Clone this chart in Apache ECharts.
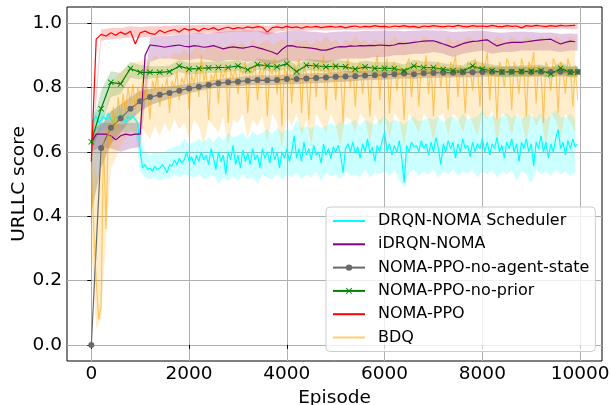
<!DOCTYPE html>
<html>
<head>
<meta charset="utf-8">
<script src="https://cdn.jsdelivr.net/npm/echarts/dist/echarts.min.js"></script>
<style>
  html, body { margin: 0; padding: 0; background: #fff; }
  #chart { width: 611px; height: 405px; }
</style>
</head>
<body>
<div id="chart"></div>
<script>
// episodes: noisy curves every 50, bands every 100, smooth curves every 100/200
const ep50 = Array.from({ length: 200 }, (_, i) => i * 50)
const ep100 = Array.from({ length: 100 }, (_, i) => i * 100)
const ep200 = Array.from({ length: 50 }, (_, i) => i * 200).concat([9950])

const xTicks = [0, 2000, 4000, 6000, 8000, 10000]
const yTicks = [0, 0.2, 0.4, 0.6, 0.8, 1.0]

// DRQN-NOMA Scheduler (ep50)
const drqn = [
  0.69, 0.70, 0.71, 0.69, 0.70, 0.71, 0.70, 0.72, 0.70, 0.69,
  0.71, 0.70, 0.72, 0.70, 0.69, 0.71, 0.70, 0.71, 0.70, 0.69,
  0.60, 0.55, 0.56, 0.545, 0.55, 0.54, 0.555, 0.545, 0.55, 0.56,
  0.55, 0.535, 0.56, 0.555, 0.575, 0.56, 0.58, 0.565, 0.575, 0.60,
  0.57, 0.585, 0.56, 0.59, 0.57, 0.60, 0.575, 0.59, 0.56, 0.61,
  0.58, 0.545, 0.60, 0.57, 0.59, 0.53, 0.60, 0.575, 0.62, 0.56,
  0.59, 0.55, 0.605, 0.57, 0.595, 0.56, 0.61, 0.575, 0.59, 0.55,
  0.61, 0.58, 0.60, 0.565, 0.615, 0.575, 0.60, 0.55, 0.60, 0.58,
  0.61, 0.57, 0.60, 0.65, 0.58, 0.61, 0.57, 0.63, 0.59, 0.61,
  0.575, 0.62, 0.59, 0.60, 0.565, 0.625, 0.59, 0.61, 0.58, 0.615,
  0.60, 0.62, 0.59, 0.535, 0.61, 0.625, 0.60, 0.63, 0.595, 0.615,
  0.58, 0.625, 0.60, 0.64, 0.595, 0.615, 0.57, 0.62, 0.60, 0.635,
  0.66, 0.60, 0.625, 0.59, 0.62, 0.60, 0.635, 0.58, 0.505, 0.62,
  0.60, 0.63, 0.615, 0.62, 0.60, 0.635, 0.61, 0.625, 0.59, 0.63,
  0.60, 0.645, 0.61, 0.56, 0.625, 0.60, 0.635, 0.61, 0.63, 0.58,
  0.625, 0.60, 0.64, 0.61, 0.62, 0.585, 0.63, 0.60, 0.625, 0.61,
  0.64, 0.60, 0.63, 0.59, 0.625, 0.61, 0.645, 0.60, 0.62, 0.58,
  0.63, 0.61, 0.64, 0.60, 0.625, 0.57, 0.63, 0.61, 0.64, 0.60,
  0.625, 0.555, 0.63, 0.61, 0.65, 0.60, 0.63, 0.58, 0.625, 0.60,
  0.64, 0.67, 0.61, 0.63, 0.59, 0.635, 0.61, 0.64, 0.615, 0.625
]
// band (ep100)
const drqnLo = [
  0.66, 0.67, 0.665, 0.67, 0.66, 0.665, 0.67, 0.66, 0.665, 0.66,
  0.54, 0.52, 0.515, 0.52, 0.51, 0.52, 0.515, 0.53, 0.52, 0.53,
  0.525, 0.52, 0.53, 0.515, 0.52, 0.53, 0.50, 0.52, 0.51, 0.525,
  0.51, 0.53, 0.515, 0.52, 0.50, 0.53, 0.52, 0.515, 0.535, 0.51,
  0.53, 0.52, 0.535, 0.515, 0.53, 0.52, 0.54, 0.51, 0.535, 0.525,
  0.53, 0.515, 0.54, 0.525, 0.53, 0.52, 0.545, 0.52, 0.535, 0.53,
  0.54, 0.525, 0.545, 0.51, 0.49, 0.535, 0.545, 0.525, 0.54, 0.53,
  0.545, 0.52, 0.54, 0.53, 0.545, 0.525, 0.54, 0.53, 0.545, 0.52,
  0.54, 0.53, 0.545, 0.52, 0.54, 0.53, 0.545, 0.51, 0.54, 0.53,
  0.50, 0.545, 0.53, 0.54, 0.525, 0.545, 0.53, 0.54, 0.525, 0.535
]
const drqnHi = [
  0.73, 0.725, 0.735, 0.72, 0.73, 0.725, 0.735, 0.73, 0.72, 0.725,
  0.66, 0.60, 0.59, 0.60, 0.595, 0.60, 0.61, 0.615, 0.62, 0.64,
  0.625, 0.63, 0.64, 0.63, 0.645, 0.63, 0.65, 0.635, 0.66, 0.645,
  0.65, 0.66, 0.64, 0.665, 0.65, 0.66, 0.67, 0.655, 0.675, 0.66,
  0.67, 0.665, 0.70, 0.675, 0.68, 0.67, 0.685, 0.675, 0.68, 0.69,
  0.68, 0.695, 0.685, 0.69, 0.70, 0.68, 0.70, 0.69, 0.685, 0.70,
  0.71, 0.69, 0.70, 0.695, 0.685, 0.70, 0.71, 0.695, 0.70, 0.705,
  0.70, 0.71, 0.69, 0.705, 0.71, 0.695, 0.72, 0.70, 0.705, 0.71,
  0.73, 0.705, 0.715, 0.70, 0.71, 0.72, 0.705, 0.715, 0.70, 0.72,
  0.71, 0.705, 0.72, 0.70, 0.715, 0.73, 0.71, 0.705, 0.72, 0.70
]

// iDRQN-NOMA (ep100)
const idrqn = [
  0.63, 0.655, 0.655, 0.655, 0.65, 0.637, 0.65, 0.655, 0.652, 0.655,
  0.655, 0.90, 0.932, 0.93, 0.928, 0.925, 0.928, 0.93, 0.932, 0.928,
  0.926, 0.93, 0.928, 0.925, 0.927, 0.93, 0.925, 0.92, 0.924, 0.926,
  0.924, 0.922, 0.925, 0.928, 0.924, 0.92, 0.915, 0.91, 0.903, 0.918,
  0.929, 0.93, 0.926, 0.925, 0.924, 0.922, 0.92, 0.916, 0.916, 0.92,
  0.925, 0.927, 0.926, 0.929, 0.928, 0.93, 0.929, 0.931, 0.93, 0.932,
  0.931, 0.93, 0.932, 0.937, 0.936, 0.938, 0.94, 0.942, 0.944, 0.945,
  0.945, 0.94, 0.935, 0.93, 0.924, 0.93, 0.936, 0.94, 0.943, 0.944,
  0.946, 0.948, 0.938, 0.929, 0.934, 0.938, 0.94, 0.94, 0.94, 0.942,
  0.944, 0.946, 0.948, 0.949, 0.95, 0.942, 0.935, 0.94, 0.944, 0.942
]
// band (ep200)
const idrqnLo = [
  0.60, 0.615, 0.61, 0.60, 0.61, 0.615, 0.88, 0.89, 0.89, 0.885,
  0.885, 0.89, 0.885, 0.88, 0.885, 0.885, 0.88, 0.885, 0.87, 0.875,
  0.885, 0.88, 0.885, 0.88, 0.875, 0.885, 0.89, 0.89, 0.89, 0.895,
  0.895, 0.90, 0.90, 0.905, 0.905, 0.91, 0.905, 0.895, 0.905, 0.91,
  0.915, 0.905, 0.91, 0.91, 0.915, 0.915, 0.915, 0.915, 0.91, 0.915,
  0.915
]
const idrqnHi = [
  0.66, 0.69, 0.69, 0.685, 0.69, 0.69, 0.955, 0.96, 0.96, 0.965,
  0.965, 0.97, 0.968, 0.972, 0.975, 0.975, 0.978, 0.976, 0.972, 0.97,
  0.975, 0.978, 0.975, 0.972, 0.97, 0.973, 0.975, 0.974, 0.976, 0.976,
  0.977, 0.976, 0.975, 0.976, 0.978, 0.978, 0.976, 0.972, 0.974, 0.976,
  0.977, 0.972, 0.97, 0.972, 0.974, 0.972, 0.97, 0.971, 0.966, 0.968,
  0.966
]

// NOMA-PPO-no-agent-state (ep200)
const noAgent = [
  0.0, 0.612, 0.675, 0.704, 0.734, 0.757, 0.77, 0.777, 0.783, 0.79,
  0.797, 0.802, 0.808, 0.813, 0.816, 0.818, 0.821, 0.823, 0.822, 0.823,
  0.826, 0.826, 0.828, 0.829, 0.831, 0.833, 0.834, 0.835, 0.837, 0.838,
  0.839, 0.841, 0.843, 0.841, 0.844, 0.845, 0.846, 0.846, 0.847, 0.847,
  0.848, 0.849, 0.848, 0.849, 0.849, 0.848, 0.849, 0.848, 0.849, 0.848,
  0.849
]
const noAgentLo = [
  0.41, 0.55, 0.625, 0.66, 0.70, 0.725, 0.745, 0.755, 0.765, 0.773,
  0.782, 0.789, 0.795, 0.80, 0.802, 0.804, 0.806, 0.808, 0.807, 0.808,
  0.81, 0.81, 0.812, 0.813, 0.815, 0.817, 0.818, 0.82, 0.822, 0.823,
  0.824, 0.826, 0.828, 0.826, 0.829, 0.83, 0.831, 0.831, 0.832, 0.832,
  0.833, 0.834, 0.833, 0.834, 0.834, 0.833, 0.834, 0.833, 0.834, 0.833,
  0.834
]
const noAgentHi = [
  0.63, 0.68, 0.725, 0.748, 0.77, 0.79, 0.795, 0.80, 0.803, 0.808,
  0.812, 0.816, 0.821, 0.826, 0.83, 0.832, 0.836, 0.838, 0.837, 0.838,
  0.841, 0.842, 0.843, 0.845, 0.846, 0.848, 0.85, 0.851, 0.852, 0.853,
  0.854, 0.856, 0.858, 0.856, 0.86, 0.86, 0.861, 0.862, 0.862, 0.863,
  0.864, 0.864, 0.864, 0.865, 0.864, 0.864, 0.865, 0.864, 0.865, 0.864,
  0.865
]

// NOMA-PPO-no-prior (ep200)
const noPrior = [
  0.631, 0.734, 0.816, 0.811, 0.859, 0.847, 0.847, 0.847, 0.849, 0.867,
  0.857, 0.859, 0.861, 0.862, 0.862, 0.867, 0.855, 0.871, 0.867, 0.864,
  0.874, 0.849, 0.869, 0.867, 0.864, 0.866, 0.864, 0.857, 0.864, 0.859,
  0.859, 0.859, 0.852, 0.867, 0.862, 0.862, 0.856, 0.852, 0.85, 0.867,
  0.857, 0.852, 0.848, 0.848, 0.85, 0.85, 0.852, 0.842, 0.86, 0.847,
  0.847
]
const noPriorLo = [
  0.60, 0.68, 0.77, 0.78, 0.83, 0.825, 0.828, 0.83, 0.832, 0.848,
  0.84, 0.842, 0.845, 0.846, 0.847, 0.851, 0.84, 0.855, 0.851, 0.848,
  0.858, 0.833, 0.853, 0.851, 0.848, 0.85, 0.848, 0.841, 0.848, 0.843,
  0.843, 0.843, 0.836, 0.851, 0.846, 0.846, 0.84, 0.836, 0.834, 0.851,
  0.841, 0.836, 0.832, 0.832, 0.834, 0.834, 0.836, 0.826, 0.844, 0.831,
  0.831
]
const noPriorHi = [
  0.67, 0.79, 0.85, 0.845, 0.88, 0.87, 0.866, 0.866, 0.868, 0.886,
  0.876, 0.878, 0.88, 0.881, 0.881, 0.886, 0.874, 0.89, 0.886, 0.883,
  0.893, 0.868, 0.888, 0.886, 0.883, 0.885, 0.883, 0.876, 0.883, 0.878,
  0.878, 0.878, 0.871, 0.886, 0.881, 0.881, 0.875, 0.871, 0.869, 0.886,
  0.876, 0.871, 0.867, 0.867, 0.869, 0.869, 0.871, 0.861, 0.879, 0.866,
  0.866
]

// NOMA-PPO (ep100)
const ppo = [
  0.57, 0.95, 0.965, 0.96, 0.97, 0.962, 0.972, 0.965, 0.975, 0.935,
  0.97, 0.975, 0.968, 0.965, 0.978, 0.97, 0.976, 0.98, 0.972, 0.983,
  0.978, 0.982, 0.975, 0.984, 0.98, 0.986, 0.978, 0.984, 0.987, 0.982,
  0.986, 0.984, 0.988, 0.985, 0.989, 0.987, 0.972, 0.986, 0.988, 0.985,
  0.99, 0.986, 0.988, 0.984, 0.989, 0.987, 0.99, 0.986, 0.988, 0.99,
  0.987, 0.99, 0.985, 0.989, 0.991, 0.987, 0.99, 0.988, 0.992, 0.989,
  0.99, 0.987, 0.991, 0.989, 0.992, 0.988, 0.99, 0.986, 0.991, 0.989,
  0.992, 0.99, 0.988, 0.991, 0.989, 0.993, 0.99, 0.988, 0.992, 0.99,
  0.991, 0.989, 0.993, 0.99, 0.988, 0.992, 0.99, 0.991, 0.985, 0.992,
  0.99, 0.993, 0.991, 0.989, 0.992, 0.99, 0.993, 0.991, 0.992, 0.993
]
// band (ep200)
const ppoLo = [
  0.55, 0.945, 0.95, 0.952, 0.955, 0.955, 0.957, 0.96, 0.962, 0.965,
  0.966, 0.968, 0.97, 0.969, 0.972, 0.973, 0.974, 0.975, 0.962, 0.974,
  0.976, 0.977, 0.976, 0.978, 0.977, 0.978, 0.979, 0.978, 0.98, 0.979,
  0.98, 0.979, 0.981, 0.98, 0.98, 0.981, 0.98, 0.982, 0.981, 0.98,
  0.982, 0.981, 0.982, 0.98, 0.982, 0.981, 0.982, 0.981, 0.983, 0.982,
  0.982
]
const ppoHi = [
  0.60, 0.98, 0.985, 0.985, 0.99, 0.988, 0.99, 0.99, 0.992, 0.993,
  0.993, 0.994, 0.995, 0.995, 0.996, 0.996, 0.996, 0.997, 0.99, 0.997,
  0.997, 0.998, 0.997, 0.998, 0.998, 0.998, 0.999, 0.998, 0.999, 0.999,
  0.999, 0.998, 0.999, 0.999, 0.999, 1.0, 0.999, 1.0, 0.999, 0.999,
  1.0, 0.999, 1.0, 0.999, 1.0, 0.999, 1.0, 1.0, 1.0, 0.999,
  1.0
]

// BDQ (ep50)
const bdq = [
  0.55, 0.36, 0.20, 0.08, 0.12, 0.65, 0.36, 0.68, 0.62, 0.74,
  0.66, 0.77, 0.70, 0.78, 0.72, 0.80, 0.75, 0.81, 0.73, 0.80,
  0.77, 0.82, 0.76, 0.80, 0.70, 0.82, 0.79, 0.84, 0.74, 0.81,
  0.79, 0.83, 0.72, 0.82, 0.80, 0.85, 0.76, 0.83, 0.81, 0.86,
  0.73, 0.84, 0.81, 0.86, 0.77, 0.90, 0.82, 0.85, 0.70, 0.84,
  0.82, 0.86, 0.75, 0.85, 0.83, 0.87, 0.69, 0.85, 0.83, 0.86,
  0.78, 0.86, 0.84, 0.88, 0.72, 0.86, 0.84, 0.87, 0.76, 0.86,
  0.83, 0.88, 0.71, 0.86, 0.84, 0.89, 0.78, 0.87, 0.68, 0.86,
  0.84, 0.88, 0.75, 0.87, 0.85, 0.89, 0.72, 0.87, 0.84, 0.70,
  0.86, 0.88, 0.77, 0.87, 0.85, 0.90, 0.73, 0.86, 0.84, 0.88,
  0.76, 0.87, 0.85, 0.69, 0.86, 0.89, 0.80, 0.87, 0.74, 0.86,
  0.88, 0.78, 0.87, 0.84, 0.71, 0.87, 0.86, 0.90, 0.76, 0.87,
  0.85, 0.89, 0.72, 0.86, 0.88, 0.79, 0.87, 0.85, 0.70, 0.87,
  0.89, 0.77, 0.86, 0.88, 0.74, 0.87, 0.85, 0.90, 0.78, 0.87,
  0.71, 0.86, 0.88, 0.80, 0.87, 0.85, 0.73, 0.88, 0.86, 0.90,
  0.77, 0.87, 0.85, 0.72, 0.88, 0.86, 0.79, 0.89, 0.86, 0.74,
  0.88, 0.86, 0.91, 0.76, 0.87, 0.85, 0.70, 0.88, 0.86, 0.80,
  0.89, 0.87, 0.73, 0.88, 0.85, 0.78, 0.89, 0.86, 0.71, 0.88,
  0.86, 0.91, 0.75, 0.87, 0.85, 0.69, 0.88, 0.86, 0.79, 0.89,
  0.87, 0.72, 0.88, 0.85, 0.78, 0.89, 0.86, 0.74, 0.87, 0.76
]
// band (ep100)
const bdqLo = [
  0.30, 0.05, 0.08, 0.33, 0.55, 0.58, 0.62, 0.64, 0.66, 0.65,
  0.68, 0.66, 0.64, 0.68, 0.65, 0.69, 0.66, 0.70, 0.67, 0.69,
  0.64, 0.70, 0.68, 0.62, 0.70, 0.68, 0.66, 0.71, 0.62, 0.70,
  0.69, 0.72, 0.64, 0.70, 0.68, 0.71, 0.63, 0.72, 0.69, 0.61,
  0.71, 0.68, 0.72, 0.65, 0.70, 0.62, 0.72, 0.69, 0.66, 0.72,
  0.68, 0.62, 0.71, 0.70, 0.66, 0.72, 0.70, 0.63, 0.72, 0.68,
  0.71, 0.64, 0.72, 0.70, 0.62, 0.72, 0.69, 0.66, 0.72, 0.70,
  0.63, 0.71, 0.72, 0.65, 0.72, 0.70, 0.66, 0.72, 0.69, 0.65,
  0.72, 0.70, 0.73, 0.62, 0.72, 0.71, 0.65, 0.72, 0.70, 0.63,
  0.72, 0.68, 0.71, 0.62, 0.72, 0.70, 0.64, 0.72, 0.69, 0.66
]
const bdqHi = [
  0.62, 0.52, 0.55, 0.74, 0.80, 0.83, 0.85, 0.86, 0.87, 0.88,
  0.88, 0.89, 0.88, 0.90, 0.89, 0.90, 0.89, 0.91, 0.90, 0.92,
  0.90, 0.92, 0.94, 0.91, 0.93, 0.92, 0.94, 0.92, 0.93, 0.94,
  0.93, 0.94, 0.92, 0.95, 0.93, 0.94, 0.95, 0.93, 0.94, 0.95,
  0.94, 0.93, 0.95, 0.94, 0.95, 0.93, 0.95, 0.94, 0.96, 0.94,
  0.95, 0.93, 0.95, 0.94, 0.96, 0.94, 0.95, 0.93, 0.95, 0.94,
  0.95, 0.94, 0.96, 0.94, 0.95, 0.93, 0.95, 0.94, 0.96, 0.95,
  0.94, 0.95, 0.93, 0.96, 0.94, 0.95, 0.94, 0.96, 0.95, 0.94,
  0.96, 0.95, 0.94, 0.96, 0.95, 0.94, 0.96, 0.95, 0.94, 0.96,
  0.95, 0.94, 0.96, 0.95, 0.94, 0.96, 0.95, 0.94, 0.96, 0.95
]

const FONT = 'DejaVu Sans'
const X_SHAPE = 'path://M1,0L5,4L9,0L10,1L6,5L10,9L9,10L5,6L1,10L0,9L4,5L0,1Z'

function pairs(eps, vals) {
  return vals.map((v, i) => [eps[i], v])
}

// shaded band drawn as one polygon through the axis scales
function band(eps, lo, hi, color, opacity) {
  return {
    type: 'custom',
    silent: true,
    data: eps.map((e, i) => [e, lo[i], hi[i]]),
    encode: { x: 0, y: [1, 2] },
    renderItem: function(params, api) {
      if (params.dataIndex !== 0) return null
      const top = []
      const bottom = []
      for (let i = 0; i < eps.length; i++) {
        top.push(api.coord([eps[i], hi[i]]))
        bottom.push(api.coord([eps[i], lo[i]]))
      }
      return {
        type: 'polygon',
        shape: { points: top.concat(bottom.reverse()) },
        style: { fill: color, opacity: opacity }
      }
    }
  }
}

function line(name, eps, vals, color, extra) {
  return Object.assign({
    name: name,
    type: 'line',
    data: pairs(eps, vals),
    symbol: 'none',
    color: color,
    lineStyle: { color: color, width: 1.2 }
  }, extra || {})
}

const chart = echarts.init(document.getElementById('chart'))

const option = {
  animation: false,
  textStyle: { fontFamily: FONT },
  grid: {
    left: 67, right: 9, top: 7, bottom: 44,
    containLabel: false,
    outerBoundsMode: 'none',
    show: true, borderColor: '#000', borderWidth: 1
  },
  legend: {
    left: 326,
    top: 207,
    orient: 'vertical',
    itemWidth: 32,
    itemHeight: 8,
    itemGap: 7.3,
    padding: [6, 6, 6, 6],
    backgroundColor: 'rgba(255,255,255,0.8)',
    borderColor: '#cccccc',
    borderWidth: 1,
    borderRadius: 4,
    textStyle: { fontFamily: FONT, fontSize: 16, color: '#000', lineHeight: 16, padding: [0, 0, 0, 8] },
    data: [
      { name: 'DRQN-NOMA Scheduler', itemStyle: { opacity: 0 } },
      { name: 'iDRQN-NOMA', itemStyle: { opacity: 0 } },
      { name: 'NOMA-PPO-no-agent-state' },
      { name: 'NOMA-PPO-no-prior' },
      { name: 'NOMA-PPO', itemStyle: { opacity: 0 } },
      { name: 'BDQ', itemStyle: { opacity: 0 } }
    ]
  },
  xAxis: {
    type: 'value',
    min: -497.5,
    max: 10447.5,
    name: 'Episode',
    nameLocation: 'middle',
    nameGap: 28,
    nameMoveOverlap: false,
    nameTextStyle: { fontFamily: FONT, fontSize: 18.5, color: '#000' },
    axisLine: { show: false },
    axisTick: { show: true, length: 4, lineStyle: { color: '#000' }, customValues: xTicks },
    axisLabel: {
      fontFamily: FONT, fontSize: 18.5, color: '#000', margin: 4, customValues: xTicks,
      formatter: v => String(v)
    },
    splitLine: { show: true, lineStyle: { color: '#b0b0b0', width: 1 } }
  },
  yAxis: {
    type: 'value',
    min: -0.05,
    max: 1.05,
    name: 'URLLC score',
    nameLocation: 'middle',
    nameGap: 38,
    nameMoveOverlap: false,
    nameTextStyle: { fontFamily: FONT, fontSize: 18.5, color: '#000' },
    axisLine: { show: false },
    axisTick: { show: true, length: 4, lineStyle: { color: '#000' }, customValues: yTicks },
    axisLabel: {
      fontFamily: FONT, fontSize: 18.5, color: '#000', margin: 5, customValues: yTicks,
      formatter: v => v.toFixed(1)
    },
    splitLine: { show: true, lineStyle: { color: '#b0b0b0', width: 1 } }
  },
  series: [
    band(ep100, drqnLo, drqnHi, '#00ffff', 0.2),
    line('DRQN-NOMA Scheduler', ep50, drqn, '#00ffff'),
    band(ep200, idrqnLo, idrqnHi, '#800080', 0.22),
    line('iDRQN-NOMA', ep100, idrqn, '#800080'),
    band(ep200, noAgentLo, noAgentHi, '#696969', 0.35),
    line('NOMA-PPO-no-agent-state', ep200, noAgent, '#696969', {
      symbol: 'circle', symbolSize: 6, itemStyle: { color: '#696969' }
    }),
    band(ep200, noPriorLo, noPriorHi, '#008000', 0.2),
    line('NOMA-PPO-no-prior', ep200, noPrior, '#008000', {
      symbol: X_SHAPE, symbolSize: 6, itemStyle: { color: '#008000' }
    }),
    band(ep200, ppoLo, ppoHi, '#ff0000', 0.2),
    line('NOMA-PPO', ep100, ppo, '#ff0000'),
    band(ep100, bdqLo, bdqHi, '#ffa500', 0.2),
    line('BDQ', ep50, bdq, '#ffa500', {
      lineStyle: { color: '#ffa500', width: 1.2, opacity: 0.55 }
    })
  ]
}

chart.setOption(option)
</script>
</body>
</html>
